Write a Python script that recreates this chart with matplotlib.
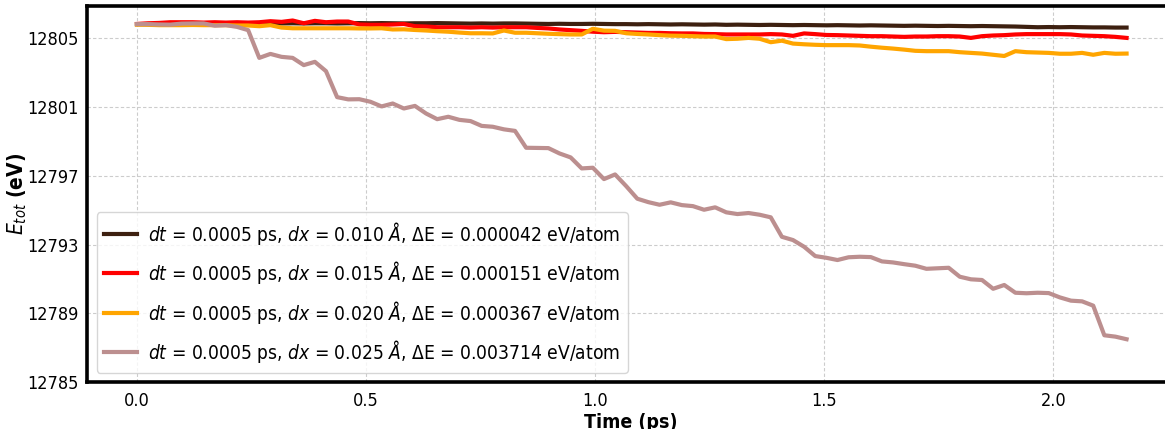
import numpy as np
import matplotlib
matplotlib.use('Agg')
import matplotlib.pyplot as plt

plt.rcParams['font.family'] = 'DejaVu Sans'
plt.rcParams['font.stretch'] = 'condensed'
plt.rcParams['mathtext.fontset'] = 'custom'
plt.rcParams['mathtext.rm'] = 'DejaVu Sans:stretch=condensed'
plt.rcParams['mathtext.it'] = 'DejaVu Sans:italic:stretch=condensed'
plt.rcParams['mathtext.bf'] = 'DejaVu Sans:bold:stretch=condensed'

# time axis (ps), 90 snapshots over the run
time_ps = np.linspace(0, 2.16, 90)

# total energy (eV) for each displacement step dx
e_dx010 = [12805.80, 12805.80, 12805.81, 12805.81, 12805.82, 12805.82, 12805.83, 12805.82, 12805.83, 12805.84,
           12805.83, 12805.84, 12805.83, 12805.84, 12805.85, 12805.84, 12805.85, 12805.85, 12805.84, 12805.85,
           12805.86, 12805.85, 12805.86, 12805.85, 12805.84, 12805.85, 12805.85, 12805.86, 12805.85, 12805.84,
           12805.83, 12805.84, 12805.83, 12805.84, 12805.84, 12805.83, 12805.82, 12805.81, 12805.82, 12805.81,
           12805.81, 12805.82, 12805.81, 12805.80, 12805.80, 12805.79, 12805.80, 12805.79, 12805.78, 12805.79,
           12805.78, 12805.77, 12805.78, 12805.76, 12805.77, 12805.76, 12805.75, 12805.76, 12805.75, 12805.74,
           12805.75, 12805.74, 12805.73, 12805.74, 12805.73, 12805.72, 12805.73, 12805.72, 12805.71, 12805.70,
           12805.71, 12805.70, 12805.69, 12805.70, 12805.69, 12805.68, 12805.69, 12805.68, 12805.67, 12805.66,
           12805.64, 12805.62, 12805.63, 12805.62, 12805.63, 12805.62, 12805.61, 12805.61, 12805.60, 12805.60]

e_dx015 = [12805.81, 12805.85, 12805.87, 12805.91, 12805.91, 12805.91, 12805.89, 12805.91, 12805.89, 12805.91,
           12805.89, 12805.91, 12805.97, 12805.93, 12806.01, 12805.85, 12805.99, 12805.91, 12805.95, 12805.95,
           12805.78, 12805.76, 12805.76, 12805.78, 12805.81, 12805.68, 12805.66, 12805.62, 12805.62, 12805.62,
           12805.60, 12805.62, 12805.60, 12805.62, 12805.62, 12805.62, 12805.58, 12805.55, 12805.49, 12805.45,
           12805.41, 12805.36, 12805.33, 12805.35, 12805.33, 12805.31, 12805.29, 12805.29, 12805.27, 12805.26,
           12805.26, 12805.23, 12805.22, 12805.20, 12805.20, 12805.20, 12805.20, 12805.22, 12805.20, 12805.12,
           12805.26, 12805.22, 12805.17, 12805.16, 12805.14, 12805.12, 12805.10, 12805.10, 12805.08, 12805.06,
           12805.08, 12805.08, 12805.10, 12805.10, 12805.08, 12805.00, 12805.10, 12805.14, 12805.16, 12805.20,
           12805.22, 12805.22, 12805.22, 12805.22, 12805.20, 12805.14, 12805.12, 12805.10, 12805.06, 12805.00]

e_dx020 = [12805.77, 12805.76, 12805.74, 12805.74, 12805.74, 12805.75, 12805.74, 12805.74, 12805.74, 12805.72,
           12805.72, 12805.68, 12805.74, 12805.60, 12805.56, 12805.56, 12805.56, 12805.56, 12805.56, 12805.56,
           12805.55, 12805.55, 12805.56, 12805.49, 12805.50, 12805.46, 12805.43, 12805.39, 12805.36, 12805.31,
           12805.27, 12805.27, 12805.26, 12805.43, 12805.30, 12805.30, 12805.27, 12805.24, 12805.22, 12805.20,
           12805.20, 12805.53, 12805.42, 12805.41, 12805.27, 12805.23, 12805.20, 12805.16, 12805.13, 12805.12,
           12805.10, 12805.08, 12805.08, 12804.93, 12804.95, 12805.00, 12804.95, 12804.75, 12804.84, 12804.67,
           12804.63, 12804.60, 12804.58, 12804.58, 12804.58, 12804.56, 12804.49, 12804.43, 12804.38, 12804.32,
           12804.25, 12804.23, 12804.23, 12804.23, 12804.17, 12804.13, 12804.09, 12804.02, 12803.95, 12804.23,
           12804.17, 12804.15, 12804.13, 12804.08, 12804.08, 12804.13, 12804.02, 12804.13, 12804.08, 12804.09]

e_dx025 = [12805.80, 12805.80, 12805.78, 12805.77, 12805.83, 12805.84, 12805.84, 12805.71, 12805.74, 12805.64,
           12805.45, 12803.84, 12804.07, 12803.90, 12803.84, 12803.42, 12803.61, 12803.07, 12801.56, 12801.43,
           12801.44, 12801.29, 12801.02, 12801.19, 12800.90, 12801.05, 12800.61, 12800.28, 12800.42, 12800.24,
           12800.17, 12799.89, 12799.84, 12799.69, 12799.60, 12798.62, 12798.61, 12798.60, 12798.29, 12798.06,
           12797.42, 12797.46, 12796.80, 12797.07, 12796.39, 12795.66, 12795.46, 12795.31, 12795.45, 12795.29,
           12795.23, 12795.02, 12795.16, 12794.87, 12794.77, 12794.83, 12794.73, 12794.58, 12793.45, 12793.26,
           12792.87, 12792.33, 12792.23, 12792.10, 12792.26, 12792.29, 12792.27, 12792.02, 12791.96, 12791.86,
           12791.77, 12791.59, 12791.62, 12791.65, 12791.13, 12790.98, 12790.94, 12790.43, 12790.65, 12790.20,
           12790.17, 12790.20, 12790.18, 12789.93, 12789.74, 12789.70, 12789.45, 12787.73, 12787.65, 12787.50]

dx_labels = ['0.010', '0.015', '0.020', '0.025']
delta_e = ['0.000042', '0.000151', '0.000367', '0.003714']
colors = ['#3d2010', '#ff0000', '#ffa500', '#bc8f8f']
yticks = [12785, 12789, 12793, 12797, 12801, 12805]
xticks = [0.0, 0.5, 1.0, 1.5, 2.0]

fig = plt.figure(figsize=(11.65, 4.29), dpi=100)
ax = fig.add_axes([0.0747, 0.1089, 0.934, 0.877])

for e, dx, de, c in zip([e_dx010, e_dx015, e_dx020, e_dx025], dx_labels, delta_e, colors):
    ax.plot(time_ps, e, color=c, lw=3,
            label=rf'$dt$ = 0.0005 ps, $dx$ = {dx} $Å$, ΔE = {de} eV/atom')

ax.set_xlim(-0.109, 2.266)
ax.set_ylim(12785, 12806.85)
ax.set_xticks(xticks)
ax.set_yticks(yticks)
ax.tick_params(axis='both', length=0, labelsize=13)
ax.tick_params(axis='x', pad=7)
ax.tick_params(axis='y', pad=6)
ax.grid(True, linestyle=(0, (3, 2)), color='#cccccc', lw=0.8)
for s in ['left', 'bottom', 'top']:
    ax.spines[s].set_linewidth(2.6)
ax.spines['right'].set_visible(False)

ax.set_xlabel('Time (ps)', fontsize=14, fontweight='bold', labelpad=2)
ax.set_ylabel(r'$E_{tot}$ (eV)', fontsize=15, fontweight='bold')
ax.yaxis.set_label_coords(-0.0535, 0.5)

ax.legend(loc='lower left', fontsize=13.8, handlelength=1.7, handletextpad=0.6,
          labelspacing=0.65)

fig.savefig('out.png', dpi=100)
